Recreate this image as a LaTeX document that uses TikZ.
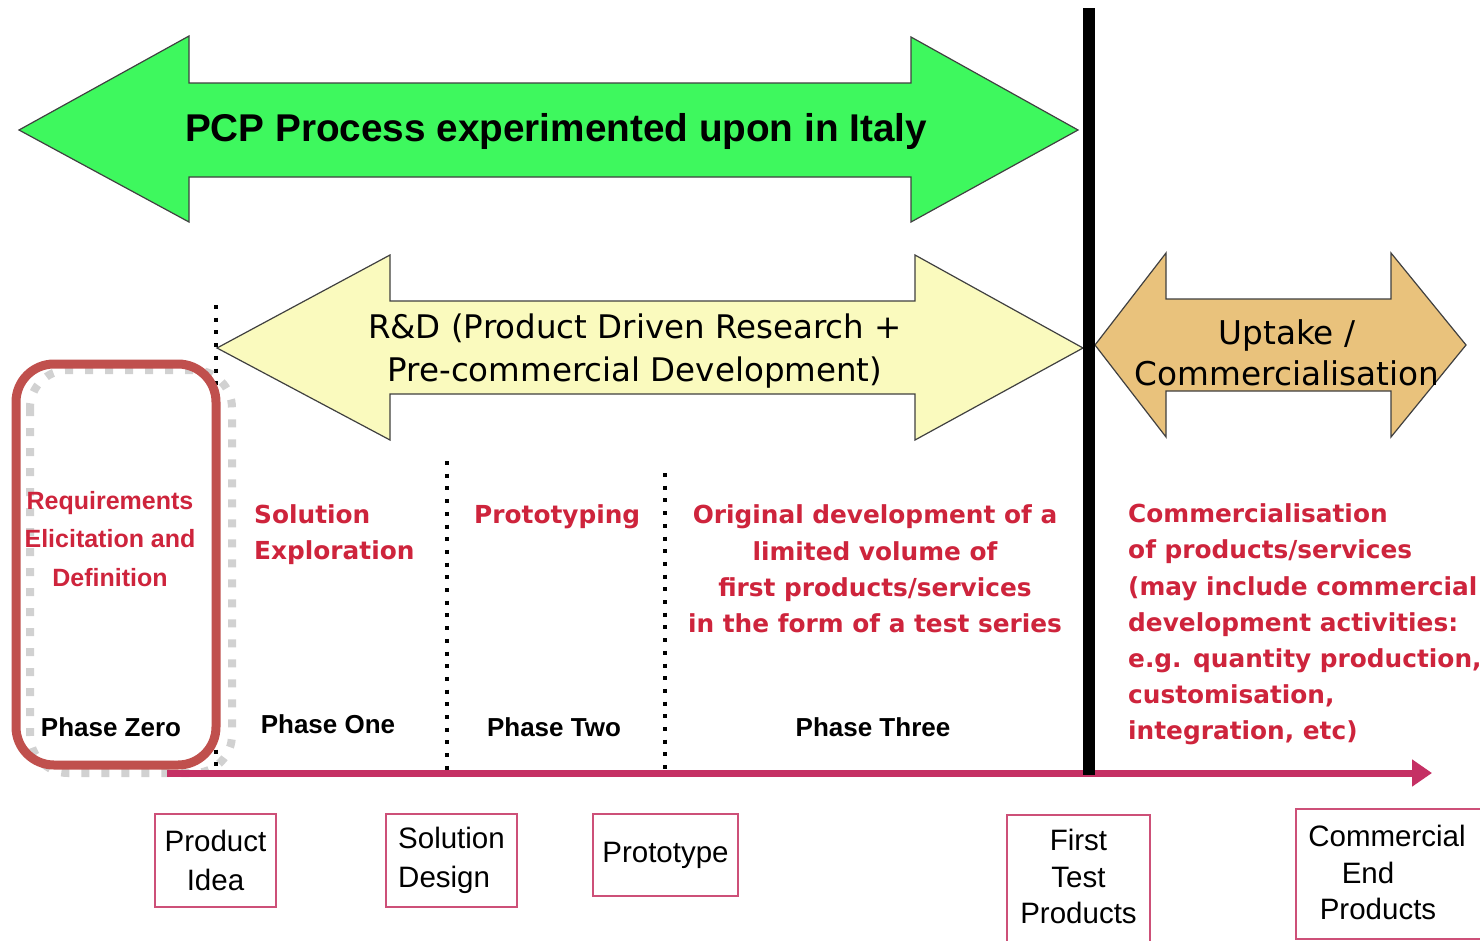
\documentclass[tikz,border=0pt]{standalone}
\usepackage{fontspec}
\setmainfont{Liberation Sans}
\newfontfamily\dv{DejaVu Sans}
\usetikzlibrary{arrows.meta}
\definecolor{txtred}{RGB}{206,36,60}
\definecolor{tlpink}{RGB}{197,48,100}
\definecolor{boxpink}{RGB}{205,80,120}
\definecolor{framered}{RGB}{192,80,77}
\definecolor{arrgreen}{RGB}{62,248,94}
\definecolor{arryellow}{RGB}{250,250,190}
\definecolor{arrorange}{RGB}{233,194,124}
\begin{document}
\begin{tikzpicture}[x=1pt,y=-1pt,
  bigarrow/.style={draw=black!75,line width=1.2pt,line join=miter},
  dotline/.style={line width=4pt,dash pattern=on 4pt off 8.7pt},
  redA/.style={text=txtred,font=\bfseries\fontsize{25}{38.5}\selectfont,align=center,inner sep=0pt},
  redV/.style={text=txtred,font=\dv\bfseries\fontsize{24.8}{36.2}\selectfont,inner sep=0pt},
  phase/.style={font=\bfseries\fontsize{26}{30}\selectfont,inner sep=0pt},
  pbox/.style={draw=boxpink,line width=2.2pt,inner sep=0pt,align=center,font=\fontsize{29.5}{39}\selectfont},
  boxtxt/.style={inner sep=0pt,align=center,font=\fontsize{29.5}{36.5}\selectfont},
  timeline/.style={draw=tlpink,line width=7pt,-{Triangle[length=20pt,width=26pt]}}
]
\useasboundingbox (0,0) rectangle (1480,940);
\fill[white] (0,0) rectangle (1480,940);

% big arrows
\draw[bigarrow,fill=arrgreen] (19,130) -- (189,36) -- (189,83) -- (911,83) -- (911,37) -- (1078,130) -- (911,222) -- (911,177) -- (189,177) -- (189,222) -- cycle;
\draw[bigarrow,fill=arryellow] (217,348) -- (390,255) -- (390,301) -- (915,301) -- (915,255) -- (1083,348) -- (915,440) -- (915,394) -- (390,394) -- (390,440) -- cycle;
\draw[bigarrow,fill=arrorange] (1095,345) -- (1166,253) -- (1166,299) -- (1391,299) -- (1391,253) -- (1466,345) -- (1391,437) -- (1391,391) -- (1166,391) -- (1166,437) -- cycle;

\node[font=\bfseries\fontsize{38.7}{44}\selectfont,inner sep=0pt] (pcp) at (556,131) {PCP Process experimented upon in Italy};
\node[font=\dv\fontsize{32.5}{43}\selectfont,align=center,inner sep=0pt] (rd) at (635,351) {R\&D (Product Driven Research +\\Pre-commercial Development)};
\node[font=\dv\fontsize{32.7}{41}\selectfont,align=center,inner sep=0pt] (up) at (1287,353) {Uptake /\\Commercialisation};

% dotted phase separators
\coordinate (d1t) at (216,305); \coordinate (d1b) at (216,773);
\coordinate (d2t) at (447,461); \coordinate (d2b) at (447,773);
\coordinate (d3t) at (665,473); \coordinate (d3b) at (665,773);
\draw[dotline] (d1t) -- (d1b);
\draw[dotline] (d2t) -- (d2b);
\draw[dotline] (d3t) -- (d3b);

% phase zero frames
\draw[black!18,line width=8pt,dash pattern=on 8pt off 12pt,rounded corners=38pt] (30,370) rectangle (232,773);
\draw[framered,line width=9pt,rounded corners=38pt] (16,364) rectangle (216,765);

% timeline
\coordinate (tls) at (167,773);
\coordinate (tle) at (1432,773);
\draw[timeline] (tls) -- (tle);

% vertical black divider
\coordinate (vt) at (1089,8);
\coordinate (vb) at (1089,775);
\draw[line width=12pt] (vt) -- (vb);

% red descriptions
\node[redA] (req) at (110,539) {Requirements\\Elicitation and\\Definition};
\node[redV,align=left,anchor=west] (solx) at (254,534.5) {Solution\\Exploration};
\node[redV,anchor=west] (prot) at (474,516.5) {Prototyping};
\node[redV,align=center] (orig) at (875,569) {Original development of a\\limited volume of\\first products/services\\in the form of a test series};
\node[redV,align=left,anchor=west] (comm) at (1128,624.5) {Commercialisation\\of products/services\\(may include commercial\\development activities:\\e.g. quantity production,\\customisation,\\integration, etc)};

% phase labels
\node[phase] (ph0) at (111,727) {Phase Zero};
\node[phase] (ph1) at (328,724) {Phase One};
\node[phase] (ph2) at (554,727) {Phase Two};
\node[phase] (ph3) at (873,727) {Phase Three};

% milestone boxes
\node[pbox,minimum width=121pt,minimum height=93pt] (bidea) at (215.5,860.5) {Product\\Idea};
\node[pbox,minimum width=131pt,minimum height=93pt,align=left] (bsol) at (451.5,860.5) {Solution\\Design};
\node[pbox,minimum width=145pt,minimum height=82pt] (bproto) at (665.5,855) {Prototype};
\node[pbox,minimum width=143pt,minimum height=136pt,anchor=north] (bfirst) at (1078.5,814) {};
\node[boxtxt] (tfirst) at (1078.5,876.5) {First\\Test\\Products};
\node[pbox,minimum width=194pt,minimum height=130pt] (bcomm) at (1393,874) {};
\node[boxtxt] (tcomm) at (1387,872.5) {Commercial\\\hspace*{-38pt}End\\\hspace*{-18pt}Products};
\end{tikzpicture}
\end{document}
